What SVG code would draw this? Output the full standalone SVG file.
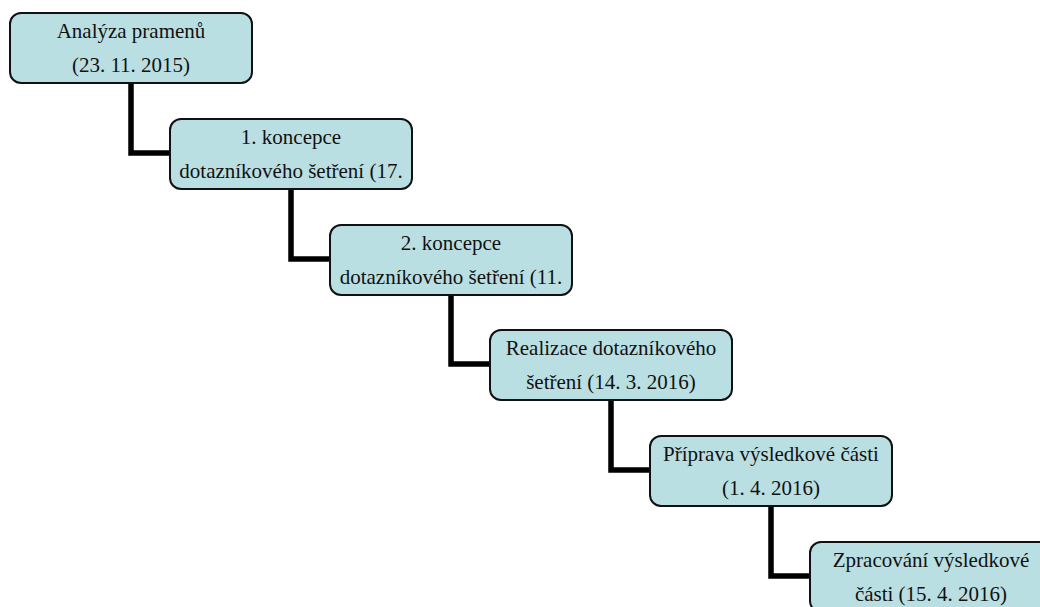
<svg xmlns="http://www.w3.org/2000/svg" width="1040" height="607" viewBox="0 0 1040 607">
<style>
.box{fill:#BADFE2;stroke:#111;stroke-width:2}
.t{font-family:"Liberation Serif","Times New Roman",serif;font-size:21px;fill:#111;text-anchor:middle}
.c{fill:none;stroke:#000;stroke-width:5.5;stroke-linejoin:miter}
</style>
<rect width="1040" height="607" fill="#fff"/>
<g id="connectors">
<path class="c" d="M131,83 V153 H170"/>
<path class="c" d="M291,189 V259 H330"/>
<path class="c" d="M451,295 V364 H490"/>
<path class="c" d="M611,400 V470 H650"/>
<path class="c" d="M771,506 V576 H810"/>
</g>
<g id="n1"><rect class="box" x="10" y="13" width="242" height="70" rx="11"/>
<text class="t" x="131" y="38">Analýza pramenů</text><text class="t" x="131" y="72">(23. 11. 2015)</text></g>
<g id="n2"><rect class="box" x="170" y="119" width="242" height="70" rx="11"/>
<text class="t" x="291" y="144">1. koncepce</text><text class="t" x="291" y="178">dotazníkového šetření (17.</text></g>
<g id="n3"><rect class="box" x="330" y="225" width="242" height="70" rx="11"/>
<text class="t" x="451" y="250">2. koncepce</text><text class="t" x="451" y="284">dotazníkového šetření (11.</text></g>
<g id="n4"><rect class="box" x="490" y="330" width="242" height="70" rx="11"/>
<text class="t" x="611" y="355">Realizace dotazníkového</text><text class="t" x="611" y="389">šetření (14. 3. 2016)</text></g>
<g id="n5"><rect class="box" x="650" y="436" width="242" height="70" rx="11"/>
<text class="t" x="771" y="461">Příprava výsledkové části</text><text class="t" x="771" y="495">(1. 4. 2016)</text></g>
<g id="n6"><rect class="box" x="810" y="542" width="242" height="70" rx="11"/>
<text class="t" x="931" y="567">Zpracování výsledkové</text><text class="t" x="931" y="601">části (15. 4. 2016)</text></g>
</svg>
